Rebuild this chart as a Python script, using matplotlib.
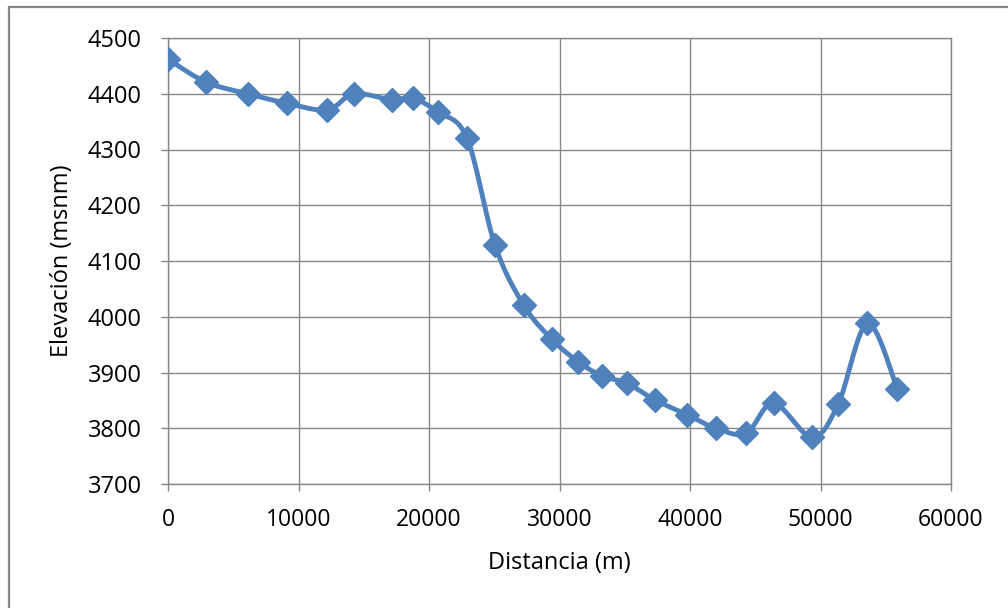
import numpy as np
import matplotlib
matplotlib.use("Agg")
import matplotlib.pyplot as plt
from matplotlib.patches import Rectangle

# perfil longitudinal: distancia (m) vs elevacion (msnm)
distancia = [0, 2900, 6100, 9100, 12200, 14250, 17150, 18750, 20700, 22900,
             25050, 27250, 29400, 31450, 33250, 35150, 37300, 39800, 42000,
             44300, 46400, 49350, 51350, 53600, 55900]
elevacion = [4462, 4421, 4400, 4383, 4371, 4400, 4389, 4392, 4367, 4321,
             4129, 4021, 3960, 3919, 3894, 3881, 3851, 3824, 3800,
             3791, 3845, 3784, 3843, 3988, 3870]

x_ticks = [0, 10000, 20000, 30000, 40000, 50000, 60000]
y_ticks = [3700, 3800, 3900, 4000, 4100, 4200, 4300, 4400, 4500]

blue = "#4F81BD"
grid = "#878787"
font = ["Open Sans", "DejaVu Sans"]


def smooth(x, y, sx, sy, n=30):
    # catmull-rom curve through the points, worked out in scaled units
    px = np.asarray(x, float) / sx
    py = np.asarray(y, float) / sy
    P = np.column_stack([px, py])
    P = np.vstack([P[0], P, P[-1]])
    out = []
    t = np.linspace(0, 1, n)[:, None]
    for i in range(1, len(P) - 2):
        p0, p1, p2, p3 = P[i - 1], P[i], P[i + 1], P[i + 2]
        c = 0.5 * ((2 * p1) + (-p0 + p2) * t + (2 * p0 - 5 * p1 + 4 * p2 - p3) * t ** 2
                   + (-p0 + 3 * p1 - 3 * p2 + p3) * t ** 3)
        out.append(c)
    out = np.vstack(out)
    return out[:, 0] * sx, out[:, 1] * sy


fig = plt.figure(figsize=(10.08, 6.08), dpi=100)
ax = fig.add_axes([168 / 1008, 1 - 484 / 608, (951 - 168) / 1008, (484 - 38) / 608])

# outer chart frame (cut at right and bottom)
fig.patches.append(Rectangle((9 / 1008, -0.1), 1.2, 1 - 7 / 608 + 0.1,
                             transform=fig.transFigure, fill=False,
                             edgecolor="#878787", linewidth=1.6))

sx = 60000 / 783.0
sy = 800 / 446.0
cx, cy = smooth(distancia, elevacion, sx, sy)
ax.plot(cx, cy, color=blue, linewidth=3.5, solid_capstyle="round", zorder=3)
ax.plot(distancia, elevacion, linestyle="none", marker="D", markersize=12,
        color=blue, markeredgecolor=blue, markeredgewidth=1, zorder=4)

ax.set_xlim(0, 60000)
ax.set_ylim(3700, 4500)
ax.set_xticks(x_ticks)
ax.set_yticks(y_ticks)
ax.set_xticklabels([str(v) for v in x_ticks], family=font, fontsize=16.5)
ax.set_yticklabels([str(v) for v in y_ticks], family=font, fontsize=17)
ax.grid(True, color=grid, linewidth=1)
ax.set_axisbelow(True)
for s in ax.spines.values():
    s.set_color(grid)
    s.set_linewidth(1)
ax.tick_params(axis="both", direction="out", length=5, color=grid, width=1,
               labelcolor="black")
ax.tick_params(axis="x", pad=12)
ax.tick_params(axis="y", pad=14)

ax.set_xlabel("Distancia (m)", family=font, fontsize=17)
ax.set_ylabel("Elevación (msnm)", family=font, fontsize=17)
ax.xaxis.set_label_coords(0.5, (484 - 563) / 446)
ax.yaxis.set_label_coords((62 - 168) / 783, 0.5)
ax.xaxis.label.set_va("center")
ax.yaxis.label.set_va("center")

fig.savefig("out.png", dpi=100)
